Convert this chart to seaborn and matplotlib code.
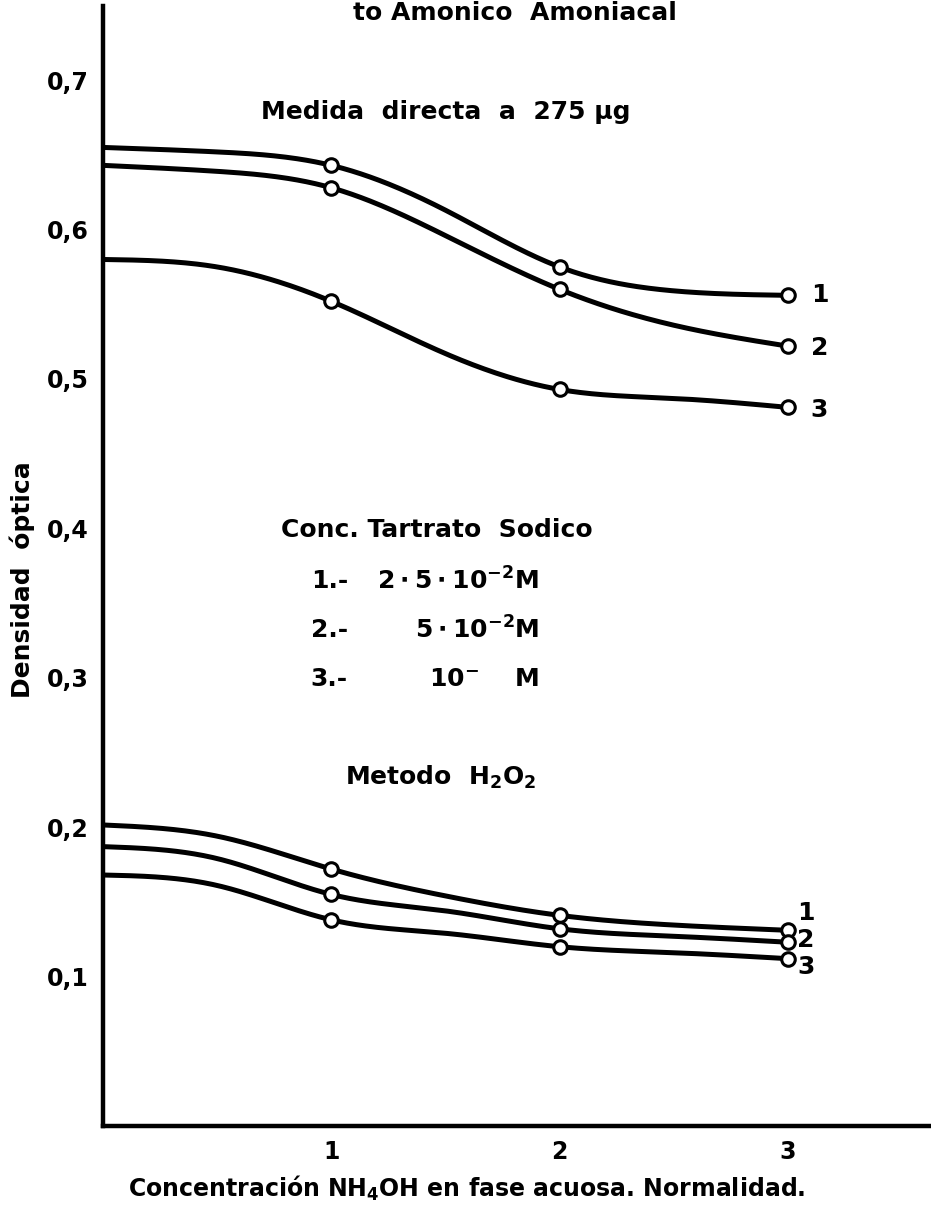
import numpy as np
import pandas as pd
import matplotlib
matplotlib.use("Agg")
import matplotlib.pyplot as plt
import seaborn as sns

# NH4OH normality in the aqueous phase
x_pts = [0.0, 0.5, 1.0, 1.5, 2.0, 2.5, 3.0]
marker_x = [1.0, 2.0, 3.0]

# Direct measurement at 275 µg, sodium tartrate 1, 2, 3
direct_1 = [0.655, 0.652, 0.643, 0.613, 0.575, 0.559, 0.556]
direct_2 = [0.643, 0.639, 0.628, 0.596, 0.560, 0.536, 0.522]
direct_3 = [0.580, 0.575, 0.552, 0.517, 0.493, 0.487, 0.481]

# H2O2 method, sodium tartrate 1, 2, 3
h2o2_1 = [0.2015, 0.194, 0.172, 0.154, 0.141, 0.1345, 0.131]
h2o2_2 = [0.187, 0.179, 0.155, 0.144, 0.132, 0.127, 0.123]
h2o2_3 = [0.168, 0.161, 0.138, 0.129, 0.120, 0.116, 0.112]

curve_labels = ["1", "2", "3"]
y_ticks = [0.1, 0.2, 0.3, 0.4, 0.5, 0.6, 0.7]
y_ticklabels = ["0,1", "0,2", "0,3", "0,4", "0,5", "0,6", "0,7"]
x_ticks = [1, 2, 3]
x_ticklabels = ["1", "2", "3"]

series = {
    "d1": direct_1, "d2": direct_2, "d3": direct_3,
    "h1": h2o2_1, "h2": h2o2_2, "h3": h2o2_3,
}


def natural_spline(x, y, xs):
    """Natural cubic spline, used only to draw a smooth curve through the points."""
    x = np.asarray(x, float)
    y = np.asarray(y, float)
    n = len(x)
    h = np.diff(x)
    A = np.zeros((n, n))
    b = np.zeros(n)
    A[0, 0] = A[-1, -1] = 1.0
    for i in range(1, n - 1):
        A[i, i - 1] = h[i - 1]
        A[i, i] = 2 * (h[i - 1] + h[i])
        A[i, i + 1] = h[i]
        b[i] = 6 * ((y[i + 1] - y[i]) / h[i] - (y[i] - y[i - 1]) / h[i - 1])
    M = np.linalg.solve(A, b)
    idx = np.clip(np.searchsorted(x, xs) - 1, 0, n - 2)
    x0, x1 = x[idx], x[idx + 1]
    hh = h[idx]
    return (M[idx] * (x1 - xs) ** 3 / (6 * hh)
            + M[idx + 1] * (xs - x0) ** 3 / (6 * hh)
            + (y[idx] / hh - M[idx] * hh / 6) * (x1 - xs)
            + (y[idx + 1] / hh - M[idx + 1] * hh / 6) * (xs - x0))


xs = np.linspace(0, 3, 301)
line_rows = []
point_rows = []
for name, vals in series.items():
    ys = natural_spline(x_pts, vals, xs)
    line_rows.append(pd.DataFrame({"x": xs, "y": ys, "curve": name}))
    for mx in marker_x:
        point_rows.append({"x": mx, "y": vals[x_pts.index(mx)], "curve": name})
lines_df = pd.concat(line_rows, ignore_index=True)
points_df = pd.DataFrame(point_rows)

sns.set_style("white")
plt.rcParams["font.family"] = ["DejaVu Sans"]
plt.rcParams["font.weight"] = "bold"
plt.rcParams["mathtext.fontset"] = "dejavusans"
plt.rcParams["mathtext.default"] = "bf"

W, H = 931, 1213
fig = plt.figure(figsize=(W / 100, H / 100), dpi=100)
ax = fig.add_axes([103 / W, 87 / H, 1 - 103 / W, (H - 87 - 6) / H])

sns.lineplot(data=lines_df, x="x", y="y", units="curve", estimator=None,
             sort=False, color="black", linewidth=3.6, ax=ax, legend=False)
sns.scatterplot(data=points_df, x="x", y="y", s=95, marker="o",
                facecolor="white", edgecolor="black", linewidth=2.2,
                zorder=5, ax=ax, legend=False)

ax.set_xlim(0, (W - 103) / 228.3)
ax.set_ylim(0, (H - 87 - 6) / 1494)
ax.set_xlabel("")
ax.set_ylabel("")

for s in ["top", "right"]:
    ax.spines[s].set_visible(False)
for s in ["left", "bottom"]:
    ax.spines[s].set_linewidth(3.2)
    ax.spines[s].set_color("black")

ax.set_xticks(x_ticks)
ax.set_xticklabels(x_ticklabels)
ax.set_yticks(y_ticks)
ax.set_yticklabels(y_ticklabels)
ax.tick_params(axis="both", direction="in", length=11, width=2.2,
               labelsize=17, colors="black")
ax.tick_params(axis="x", pad=10)
ax.tick_params(axis="y", pad=10)
for lab in ax.get_xticklabels() + ax.get_yticklabels():
    lab.set_fontweight("bold")

txt = dict(fontsize=18, fontweight="bold", color="black")

ax.text(1.50, 0.679, "Medida  directa  a  275 µg", ha="center", va="center", **txt)
ax.text(1.46, 0.399, "Conc. Tartrato  Sodico", ha="center", va="center", **txt)
for lab, val, yy in [("1.-", r"$2\cdot5\cdot10^{-2}$M", 0.365),
                     ("2.-", r"$5\cdot10^{-2}$M", 0.332),
                     ("3.-", r"$10^{-}$    M", 0.299)]:
    ax.text(0.91, yy, lab, ha="left", va="center", **txt)
    ax.text(1.91, yy, val, ha="right", va="center", **txt)
ax.text(1.48, 0.233, r"Metodo  H$_2$O$_2$", ha="center", va="center", **txt)

for lab, yy in zip(curve_labels, [0.556, 0.521, 0.479]):
    ax.text(3.10, yy, lab, ha="left", va="center", **txt)
for lab, yy in zip(curve_labels, [0.1426, 0.1245, 0.1064]):
    ax.text(3.04, yy, lab, ha="left", va="center", **txt)

fig.text(22 / W, 1 - 580 / H, "Densidad  óptica", rotation=90,
         ha="center", va="center", **txt)
fig.text(467 / W, 1 - 1188 / H,
         r"Concentración NH$_4$OH en fase acuosa. Normalidad.",
         ha="center", va="center", fontsize=17, fontweight="bold", color="black")
fig.text(515 / W, 1 - 20 / H, "to Amonico  Amoniacal",
         ha="center", va="baseline", fontsize=18, fontweight="bold", color="black")

fig.savefig("out.png", dpi=100, facecolor="white")
